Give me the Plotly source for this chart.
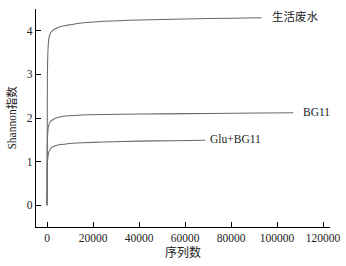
import plotly.graph_objects as go

# Data
series_names = ["生活废水", "BG11", "Glu+BG11"]
x_domestic = [0, 150, 400, 800, 1500, 2500, 4000, 6000, 9000, 15000, 25000, 40000, 60000, 80000, 93300]
y_domestic = [0, 2.9, 3.55, 3.82, 3.95, 4.01, 4.06, 4.10, 4.13, 4.18, 4.22, 4.25, 4.27, 4.29, 4.30]
x_bg11 = [0, 150, 400, 800, 1500, 2500, 4000, 6000, 9000, 15000, 25000, 40000, 60000, 80000, 107000]
y_bg11 = [0, 1.45, 1.72, 1.85, 1.92, 1.96, 2.00, 2.03, 2.05, 2.07, 2.08, 2.09, 2.10, 2.11, 2.12]
x_glu = [0, 150, 400, 800, 1500, 2500, 4000, 6000, 9000, 15000, 25000, 40000, 55000, 68700]
y_glu = [0, 0.95, 1.12, 1.22, 1.29, 1.34, 1.37, 1.39, 1.41, 1.43, 1.45, 1.47, 1.48, 1.49]

x_tickvals = [0, 20000, 40000, 60000, 80000, 100000, 120000, 123000]
x_ticktext = ["0", "20000", "40000", "60000", "80000", "100000", "120000", ""]
y_tickvals = [0, 1, 2, 3, 4, 4.5]
y_ticktext = ["0", "1", "2", "3", "4", ""]

label_shift = [8, 8, 3]

xs = [x_domestic, x_bg11, x_glu]
ys = [y_domestic, y_bg11, y_glu]

serif = "Liberation Serif"
cjk = "Liberation Serif, Noto Sans CJK SC"
text_color = "#222222"

fig = go.Figure()
for name, x, y in zip(series_names, xs, ys):
    fig.add_trace(go.Scatter(x=x, y=y, mode="lines", name=name,
                             line=dict(color="#6a6a6a", width=1.05, shape="spline", smoothing=0.6)))

for name, x, y, sh in zip(series_names, xs, ys, label_shift):
    fig.add_annotation(x=x[-1], y=y[-1], text=name, showarrow=False,
                       xanchor="left", yanchor="middle", xshift=sh, yshift=1,
                       font=dict(family=cjk, size=11.5, color=text_color))

axis_common = dict(showline=True, linecolor="#000000", linewidth=1.3,
                   ticks="inside", tickcolor="#000000", ticklen=5, tickwidth=1,
                   showgrid=False, zeroline=False, mirror=False, automargin=False,
                   tickfont=dict(family=serif, size=11.5, color=text_color))

fig.update_layout(
    width=346, height=266,
    margin=dict(l=36, r=16, t=9, b=39),
    paper_bgcolor="#ffffff", plot_bgcolor="#ffffff",
    showlegend=False,
    xaxis=dict(range=[-4800, 123000], tickmode="array", tickvals=x_tickvals, ticktext=x_ticktext,
               title=dict(text="序列数", font=dict(family=cjk, size=12, color=text_color), standoff=5),
               **axis_common),
    yaxis=dict(range=[-0.5, 4.5], tickmode="array", tickvals=y_tickvals, ticktext=y_ticktext,
               title=dict(text="Shannon指数", font=dict(family=cjk, size=11.5, color=text_color), standoff=7),
               **axis_common),
)

fig.write_html("out.html", config={"displayModeBar": False},
               post_script="document.body.style.margin='0';document.body.style.overflow='hidden';")
